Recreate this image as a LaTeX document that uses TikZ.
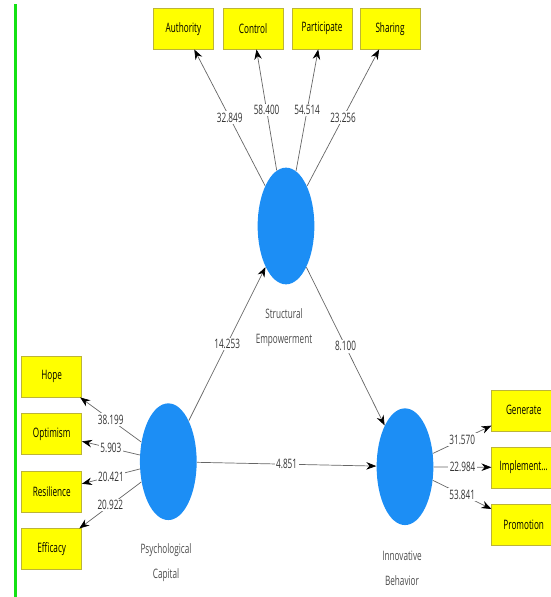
\documentclass[tikz,border=0pt]{standalone}
\usepackage{fontspec}
\setmainfont[FakeStretch=0.63]{Open Sans}
\usetikzlibrary{arrows.meta,shapes.geometric}
\definecolor{lvblue}{RGB}{28,142,245}
\definecolor{indyel}{RGB}{255,255,0}
\definecolor{bargreen}{RGB}{20,225,20}
\tikzset{
  >={Stealth[length=10pt,width=7.5pt,color=black]},
  lv/.style={ellipse,fill=lvblue,minimum width=56.7pt,minimum height=116.7pt,inner sep=0pt},
  ind/.style={rectangle,draw=yellow!70!black,fill=indyel,line width=0.5pt,minimum width=60pt,minimum height=41pt,inner sep=0pt,font=\fontsize{13}{15}\selectfont},
  wt/.style={midway,fill=white,inner sep=1.5pt,font=\fontsize{13}{15}\selectfont,text=black!80},
  nm/.style={align=center,font=\fontsize{13}{25}\selectfont,text=black!70},
  every picture/.style={line width=0.7pt},
}

\begin{document}
\begin{tikzpicture}[x=1pt,y=-1pt]
\useasboundingbox (0,0) rectangle (551,597);
\clip (0,0) rectangle (551,597);
\fill[bargreen] (13.5,4) rectangle (17,597);
% latent variables
\node[lv] (SE) at (286,226) {};
\node[lv] (PC) at (168.3,461.7) {};
\node[lv] (IB) at (405,466.7) {};
\node[nm] (SEl) at (284,327.5) {Structural\\Empowerment};
\node[nm] (PCl) at (166,563) {Psychological\\Capital};
\node[nm] (IBl) at (402,568) {Innovative\\Behavior};
% indicators
\foreach \x/\n/\t in {183.5/Au/Authority,253/Co/Control,322/Pa/Participate,390/Sh/Sharing}{\node[ind] (\n) at (\x,28.7){\t};}
\foreach \y/\n/\t in {376.7/Ho/Hope,434.2/Op/Optimism,491.5/Re/Resilience,549.2/Ef/Efficacy}{\node[ind] (\n) at (51.7,\y){\t};}
\foreach \y/\n/\t in {410.3/Ge/Generate,467.5/Im/Implement\ldots,524.8/Pr/Promotion}{\node[ind,minimum width=64pt] (\n) at (523.7,\y){\t};}
\begin{scope}[->,draw=black!60]
\foreach \n/\v in {Au/32.849,Co/58.400,Pa/54.514,Sh/23.256}{\draw (SE)--node[wt]{\v}(\n);}
\foreach \n/\v in {Ho/38.199,Op/5.903,Re/20.421,Ef/20.922}{\draw (PC)--node[wt]{\v}(\n);}
\foreach \n/\v in {Ge/31.570,Im/22.984,Pr/53.841}{\draw (IB)--node[wt]{\v}(\n);}
\draw (PC)--node[wt]{14.253}(SE);
\draw (SE)--node[wt]{8.100}(IB);
\draw (PC)--node[wt]{4.851}(IB);
\end{scope}
\end{tikzpicture}
\end{document}
